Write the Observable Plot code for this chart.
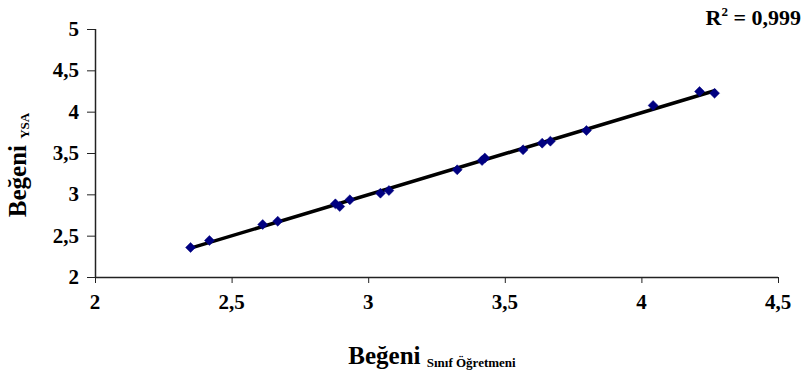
<!DOCTYPE html>
<html>
<head>
<meta charset="utf-8">
<script src="https://cdn.jsdelivr.net/npm/d3@7"></script>
<script src="https://cdn.jsdelivr.net/npm/@observablehq/plot@0.6"></script>
<style>
  html, body { margin: 0; padding: 0; background: #fff; }
  #chart svg { display: block; }
</style>
</head>
<body>
<div id="chart"></div>
<script>
// Beğeni (Sınıf Öğretmeni) vs Beğeni (YSA)
const xValues = [2.348, 2.417, 2.612, 2.667, 2.878, 2.894, 2.931, 3.043, 3.074, 3.324, 3.415, 3.425, 3.565, 3.635, 3.665, 3.797, 4.041, 4.211, 4.266];
const yValues = [2.363, 2.448, 2.641, 2.681, 2.891, 2.859, 2.940, 3.020, 3.052, 3.303, 3.415, 3.445, 3.545, 3.625, 3.649, 3.778, 4.081, 4.250, 4.229];
const xTicks = [2, 2.5, 3, 3.5, 4, 4.5];
const yTicks = [2, 2.5, 3, 3.5, 4, 4.5, 5];
const r2Label = "0,999";

const data = xValues.map((x, i) => ({x, y: yValues[i]}));
const fmt = d => String(d).replace(".", ",");
const font = "'Liberation Serif', 'Times New Roman', serif";

const plot = Plot.plot({
  width: 805,
  height: 374,
  marginLeft: 95,
  marginRight: 27,
  marginTop: 29,
  marginBottom: 97,
  style: {fontSize: "19px", color: "#000", background: "#fff"},
  x: {domain: [2, 4.5]},
  y: {domain: [2, 5]},
  marks: [
    Plot.axisX({ticks: xTicks, tickSize: 6, text: null, label: null, stroke: "#222"}),
    Plot.axisY({ticks: yTicks, tickSize: 8, text: null, label: null, stroke: "#222"}),
    Plot.ruleY([2], {stroke: "#222", strokeWidth: 1.5}),
    Plot.ruleX([2], {stroke: "#222", strokeWidth: 1.5}),
    Plot.linearRegressionY(data, {x: "x", y: "y", ci: 0, stroke: "#000", strokeWidth: 3.5}),
    Plot.dot(data, {x: "x", y: "y", symbol: "diamond2", r: 4.5, fill: "#000080", stroke: "#000080", strokeWidth: 0.5})
  ]
});

const svg = d3.select(plot);
const sx = plot.scale("x"), sy = plot.scale("y");

// tick labels placed through Plot's own scales
svg.append("g").selectAll("text").data(xTicks).join("text")
  .attr("x", d => sx.apply(d)).attr("y", 309)
  .attr("text-anchor", "middle")
  .style("font-family", font).style("font-weight", "bold").style("font-size", "21px").attr("fill", "#000")
  .text(fmt);
svg.append("g").selectAll("text").data(yTicks).join("text")
  .attr("x", 79).attr("y", d => sy.apply(d)).attr("dy", "0.34em")
  .attr("text-anchor", "end")
  .style("font-family", font).style("font-weight", "bold").style("font-size", "21px").attr("fill", "#000")
  .text(fmt);

// x axis title with subscript
const xt = svg.append("text")
  .attr("x", 432).attr("y", 364)
  .attr("text-anchor", "middle")
  .style("font-family", font).style("font-weight", "bold").attr("fill", "#000");
xt.append("tspan").style("font-size", "25px").text("Beğeni ");
xt.append("tspan").style("font-size", "13px").attr("dy", 3).text("Sınıf Öğretmeni");

// y axis title with subscript
const yt = svg.append("text")
  .attr("transform", "translate(26,165) rotate(-90)")
  .attr("text-anchor", "middle")
  .style("font-family", font).style("font-weight", "bold").attr("fill", "#000");
yt.append("tspan").style("font-size", "25px").text("Beğeni ");
yt.append("tspan").style("font-size", "13px").attr("dy", 3).text("YSA");

// R² annotation
const rt = svg.append("text")
  .attr("x", 801).attr("y", 25)
  .attr("text-anchor", "end")
  .style("font-family", font).style("font-weight", "bold").style("font-size", "22px").attr("fill", "#000");
rt.append("tspan").text("R");
rt.append("tspan").style("font-size", "13px").attr("dy", -9).text("2");
rt.append("tspan").attr("dy", 9).text(" = " + r2Label);

document.getElementById("chart").appendChild(plot);
</script>
</body>
</html>
